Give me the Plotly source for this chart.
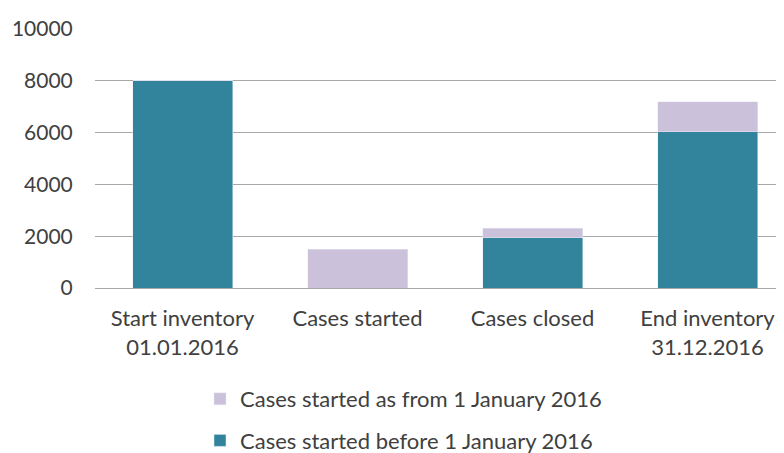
import plotly.graph_objects as go

categories = ["Start inventory<br>01.01.2016", "Cases started", "Cases closed", "End inventory<br>31.12.2016"]
before_2016 = [8000, 0, 1950, 6030]
from_2016 = [0, 1500, 350, 1170]
y_ticks = [0, 2000, 4000, 6000, 8000, 10000]
series_names = ["Cases started before 1 January 2016", "Cases started as from 1 January 2016"]

TEAL = "#31849B"
LAVENDER = "#CCC1DA"
FONT = dict(family="Lato", size=22, color="#404040")
YFONT = dict(family="Lato", size=21, color="#404040")

W, H = 776, 445  # page body has an 8px margin

fig = go.Figure()
fig.add_trace(go.Bar(x=categories, y=before_2016, name=series_names[0],
                     marker=dict(color=TEAL), legendgroup="a", legendrank=2))
fig.add_trace(go.Bar(x=categories, y=from_2016, name=series_names[1],
                     marker=dict(color=LAVENDER), legendgroup="b", legendrank=1))

fig.update_layout(
    width=W, height=H,
    margin=dict(l=87, r=0, t=21, b=H - 280, autoexpand=False),
    barmode="stack",
    bargap=1 - 100 / 175,
    plot_bgcolor="white", paper_bgcolor="white",
    font=FONT,
    showlegend=True,
    legend=dict(
        xref="container", yref="container",
        x=192 / W, y=1 - 370 / H, xanchor="left", yanchor="top",
        traceorder="grouped", tracegroupgap=10,
        font=FONT, bgcolor="rgba(0,0,0,0)",
    ),
)
fig.update_xaxes(
    range=[-0.5, -0.5 + 689 / 175],
    showgrid=False, zeroline=False, showline=False,
    ticks="outside", ticklen=11, tickcolor="rgba(0,0,0,0)",
    tickangle=0, tickfont=FONT,
)
fig.update_yaxes(
    range=[0, 10000], tickvals=y_ticks, tickformat="d",
    showgrid=True, gridcolor="#A8A8A8", gridwidth=1,
    zeroline=True, zerolinecolor="#A8A8A8", zerolinewidth=1,
    showline=False,
    ticks="outside", ticklen=17, tickcolor="rgba(0,0,0,0)",
    tickfont=YFONT,
)

fig.write_html("out.html")
